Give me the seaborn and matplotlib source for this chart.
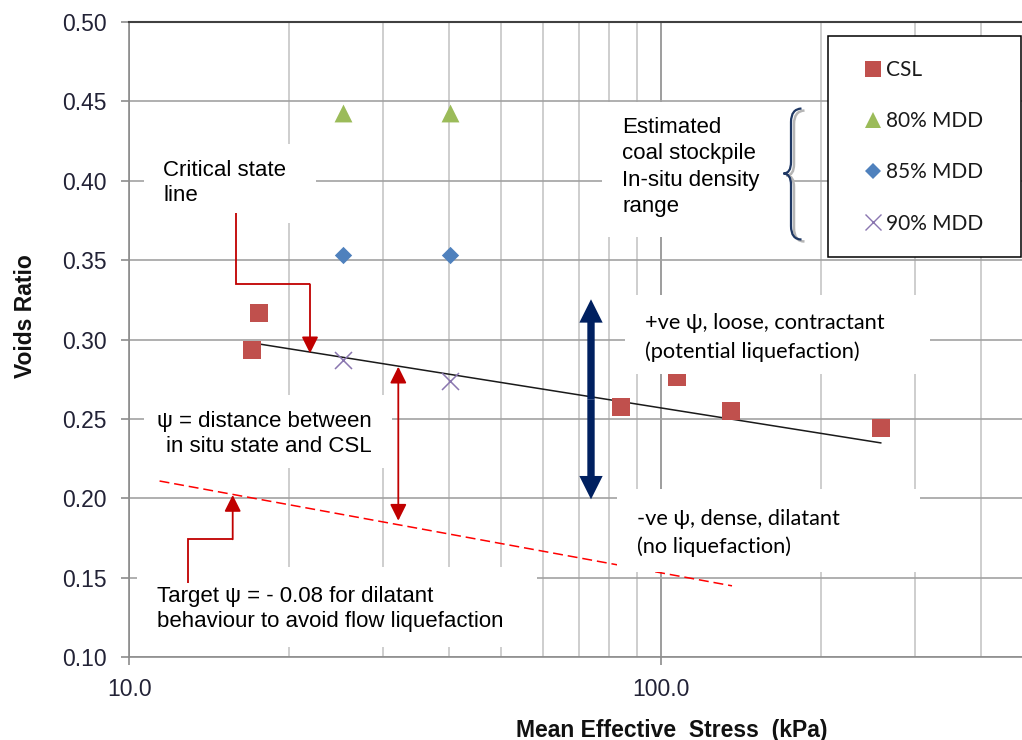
import matplotlib
matplotlib.use("Agg")
import matplotlib.pyplot as plt
import seaborn as sns
import pandas as pd
from matplotlib.lines import Line2D
from matplotlib.patches import Rectangle, PathPatch, FancyArrowPatch
from matplotlib.path import Path
from matplotlib.ticker import FixedLocator, LogLocator, FuncFormatter, NullFormatter

# ---------------- data ----------------
csl_stress = [17.0, 17.5, 84.0, 107.3, 135.2, 259.0]
csl_void = [0.2935, 0.3166, 0.2578, 0.2765, 0.2553, 0.2442]
mdd80_stress = [25.2, 40.1]
mdd80_void = [0.443, 0.443]
mdd85_stress = [25.2, 40.1]
mdd85_void = [0.353, 0.353]
mdd90_stress = [25.2, 40.1]
mdd90_void = [0.287, 0.274]
csl_line_stress = [17.0, 259.0]
csl_line_void = [0.298, 0.235]
target_line_stress = [11.4, 136.0]
target_line_void = [0.211, 0.145]
series_labels = ["CSL", "80% MDD", "85% MDD", "90% MDD"]
y_ticks = [0.10, 0.15, 0.20, 0.25, 0.30, 0.35, 0.40, 0.45, 0.50]
x_major_ticks = [10.0, 100.0]

# ---------------- layout ----------------
W, H = 1022, 740
AX_L, AX_R, AX_T, AX_B = 129.3, 1022.0, 22.0, 657.3
DECADE_PX = 531.7

plt.rcParams['font.family'] = ['Liberation Sans', 'DejaVu Sans']
fig = plt.figure(figsize=(W / 100, H / 100), dpi=100)
fig.patch.set_facecolor('white')
ax = fig.add_axes([AX_L / W, 1 - AX_B / H, (AX_R - AX_L) / W, (AX_B - AX_T) / H])


def P(px, py):
    return ((px - AX_L) / (AX_R - AX_L), (AX_B - py) / (AX_B - AX_T))


# ---------------- data marks ----------------
ax.set_xscale('log')
df_csl = pd.DataFrame({'stress': csl_stress, 'void': csl_void})
df80 = pd.DataFrame({'stress': mdd80_stress, 'void': mdd80_void})
df85 = pd.DataFrame({'stress': mdd85_stress, 'void': mdd85_void})
df90 = pd.DataFrame({'stress': mdd90_stress, 'void': mdd90_void})

C_RED, C_GREEN, C_BLUE, C_PURPLE = '#C0504D', '#9BBB59', '#4F81BD', '#8A76B0'

sns.lineplot(x=csl_line_stress, y=csl_line_void, color='#1a1a1a', linewidth=1.1,
             sort=False, ax=ax, zorder=2)
sns.lineplot(x=target_line_stress, y=target_line_void, color='#ff0000', linewidth=1.1,
             linestyle=(0, (6.5, 3.2)), sort=False, ax=ax, zorder=2)
sns.scatterplot(data=df_csl, x='stress', y='void', marker='s', s=150, color=C_RED,
                linewidth=0, ax=ax, zorder=2.5, legend=False)
sns.scatterplot(data=df80, x='stress', y='void', marker='^', s=165, color=C_GREEN,
                linewidth=0, ax=ax, zorder=2.5, legend=False)
sns.scatterplot(data=df85, x='stress', y='void', marker='D', s=78, color=C_BLUE,
                linewidth=0, ax=ax, zorder=2.5, legend=False)
sns.scatterplot(data=df90, x='stress', y='void', marker='x', s=150, color=C_PURPLE,
                linewidth=1.1, ax=ax, zorder=2.5, legend=False)

# ---------------- axes ----------------
ax.set_xlim(10, 10 ** (1 + (AX_R - AX_L) / DECADE_PX))
ax.set_ylim(0.10, 0.50)
ax.xaxis.set_major_locator(FixedLocator(x_major_ticks))
ax.xaxis.set_minor_locator(LogLocator(base=10, subs=range(2, 10)))
ax.xaxis.set_minor_formatter(NullFormatter())
ax.xaxis.set_major_formatter(FuncFormatter(lambda v, p: f"{v:.1f}"))
ax.yaxis.set_major_locator(FixedLocator(y_ticks))
ax.yaxis.set_major_formatter(FuncFormatter(lambda v, p: f"{v:.2f}"))

ax.set_axisbelow(True)
ax.grid(which='major', axis='x', color='#8c8c8c', linewidth=1.2)
ax.grid(which='minor', axis='x', color='#c6c6c6', linewidth=1.2)
ax.grid(which='major', axis='y', color='#a2a2a2', linewidth=1.2)

TICK_COL = '#222236'
ax.tick_params(axis='x', which='minor', length=0)
ax.tick_params(axis='x', which='major', length=6, width=1.2, color='#8c8c8c',
               direction='out', pad=9, labelsize=16.5, labelcolor=TICK_COL)
ax.tick_params(axis='y', which='major', length=5.5, width=1.2, color='#8c8c8c',
               direction='out', pad=10.5, labelsize=16.5, labelcolor=TICK_COL)

for s in ['left', 'bottom']:
    ax.spines[s].set_color('#8c8c8c')
    ax.spines[s].set_linewidth(1.2)
ax.spines['top'].set_color('#404040')
ax.spines['top'].set_linewidth(1.5)
ax.spines['right'].set_visible(False)

ax.set_ylabel('Voids Ratio', fontsize=16.5, fontweight='bold', color='#111111')
ax.yaxis.set_label_coords(-0.1038, 0.537)
ax.set_xlabel('Mean Effective  Stress  (kPa)', fontsize=16.5, fontweight='bold',
              color='#111111')
ax.xaxis.set_label_coords(0.6074, -0.0965)


# ---------------- annotation boxes & texts ----------------
def box(x0, y0, x1, y1):
    ax0, ay1 = P(x0, y0)
    ax1, ay0 = P(x1, y1)
    ax.add_patch(Rectangle((ax0, ay0), ax1 - ax0, ay1 - ay0, transform=ax.transAxes,
                           facecolor='white', edgecolor='none', zorder=3))


def line_text(px, py, s, **kw):
    ax.text(*P(px, py), s, transform=ax.transAxes, va='baseline', zorder=6,
            color='black', **kw)


ARIAL = dict(fontsize=16, family=['Liberation Sans', 'DejaVu Sans'])
CALIBRI = dict(fontsize=15.7, family=['Lato', 'DejaVu Sans'])

box(144, 144, 316, 222.7)
line_text(163.3, 175.7, 'Critical state', **ARIAL)
line_text(163.3, 201.0, 'line', **ARIAL)

box(602, 102, 790, 237)
for t, yy in zip(['Estimated', 'coal stockpile', 'In-situ density', 'range'],
                 [133.3, 159.3, 185.7, 211.7]):
    line_text(622.3, yy, t, **ARIAL)

box(144, 395, 392, 468)
line_text(372, 427.3, 'ψ = distance between', ha='right', **ARIAL)
line_text(372, 451.7, 'in situ state and CSL', ha='right', **ARIAL)

box(137, 567, 537, 647)
line_text(156.7, 602.3, 'Target ψ = - 0.08 for dilatant', **ARIAL)
line_text(156.7, 627.3, 'behaviour to avoid flow liquefaction', **ARIAL)

box(625, 295, 930, 374)
line_text(645, 329, '+ve ψ, loose, contractant', **CALIBRI)
line_text(645, 357.7, '(potential liquefaction)', **CALIBRI)

box(617, 489, 920, 572)
line_text(636.7, 525, '-ve ψ, dense, dilatant', **CALIBRI)
line_text(636.7, 552.7, '(no liquefaction)', **CALIBRI)

# ---------------- arrows ----------------
RED = '#C00000'


def poly(points, **kw):
    xs, ys = zip(*[P(*p) for p in points])
    ax.plot(xs, ys, transform=ax.transAxes, zorder=5, solid_capstyle='butt',
            solid_joinstyle='miter', **kw)


def red_arrow(start, tip, style='-|>'):
    ax.annotate('', xy=P(*tip), xytext=P(*start), xycoords='axes fraction',
                textcoords='axes fraction', zorder=5,
                arrowprops=dict(arrowstyle=f'{style},head_length=1.0,head_width=0.5',
                                color=RED, lw=1.3, shrinkA=0, shrinkB=0,
                                mutation_scale=10))


# Critical state line elbow
poly([(235.7, 213.3), (235.7, 284.3), (310, 284.3)], color=RED, lw=1.3)
red_arrow((310, 284.3), (310, 353.3))
# psi distance double arrow
red_arrow((398.3, 366.7), (398.3, 520.7), style='<|-|>')
# Target elbow
poly([(188.3, 583.3), (188.3, 539.3), (232.7, 539.3)], color=RED, lw=1.3)
red_arrow((232.7, 539.3), (232.7, 495))

# Navy double arrow
NAVY = '#002060'
mid = P(591, 399.3)
for tip in [(591, 299.3), (591, 499.3)]:
    ax.add_patch(FancyArrowPatch(posA=mid, posB=P(*tip), transform=ax.transAxes,
                                 arrowstyle='simple,head_length=1.68,head_width=1.68,tail_width=0.53',
                                 mutation_scale=10, color=NAVY, lw=0, shrinkA=0, shrinkB=0,
                                 zorder=5))


# Curly brace
def brace_path(dx=0.0, dy=0.0):
    pts = [(801.5, 108.5), (791, 109), (791, 122), (791, 162), (791, 173.5),
           (783.5, 173.5), (791, 173.5), (791, 185), (791, 226), (791, 239.5),
           (801.5, 239.5)]
    codes = [Path.MOVETO, Path.CURVE3, Path.CURVE3, Path.LINETO, Path.CURVE3,
             Path.CURVE3, Path.CURVE3, Path.CURVE3, Path.LINETO, Path.CURVE3,
             Path.CURVE3]
    return Path([P(x + dx, y + dy) for x, y in pts], codes)


ax.add_patch(PathPatch(brace_path(3, 2), transform=ax.transAxes, fill=False,
                       edgecolor='#b5b5b5', lw=1.8, zorder=4))
ax.add_patch(PathPatch(brace_path(), transform=ax.transAxes, fill=False,
                       edgecolor='#1F3864', lw=1.6, zorder=4.5))

# ---------------- legend ----------------
lx0, ly1 = P(827.7, 36)
lx1, ly0 = P(1020.7, 256.7)
ax.add_patch(Rectangle((lx0, ly0), lx1 - lx0, ly1 - ly0, transform=ax.transAxes,
                       facecolor='white', edgecolor='black', lw=1.1, zorder=3))
handles = [
    Line2D([], [], ls='none', marker='s', ms=12, mfc=C_RED, mec=C_RED, mew=0),
    Line2D([], [], ls='none', marker='^', ms=11.5, mfc=C_GREEN, mec=C_GREEN, mew=0),
    Line2D([], [], ls='none', marker='D', ms=8.5, mfc=C_BLUE, mec=C_BLUE, mew=0),
    Line2D([], [], ls='none', marker='x', ms=11.5, color=C_PURPLE, mew=1.0),
]
leg = ax.legend(handles, series_labels, loc='center left', bbox_to_anchor=P(862.9, 146.7),
                frameon=False, prop={'family': ['Lato', 'DejaVu Sans'], 'size': 15},
                handlelength=1.0, handletextpad=0.11, labelspacing=1.5, borderpad=0,
                borderaxespad=0, numpoints=1, labelcolor='#1a1a1a')
leg.set_zorder(6)

fig.savefig('out.png', dpi=100, facecolor='white')
